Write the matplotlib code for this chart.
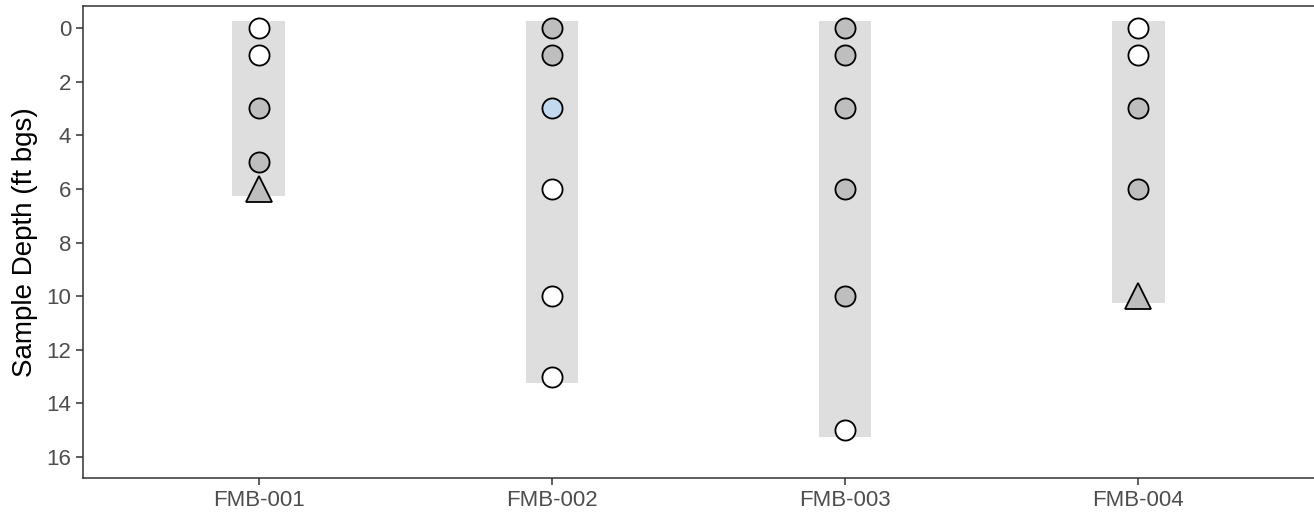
import numpy as np
import matplotlib.pyplot as plt

plt.rcParams['font.family'] = ['Liberation Sans', 'DejaVu Sans']

BORINGS = ["FMB-001", "FMB-002", "FMB-003", "FMB-004"]
TOTAL_DEPTH = [6, 13, 15, 10]

# samples per boring: depth, result class
SAMPLE_BORING = ["FMB-001"] * 5 + ["FMB-002"] * 6 + ["FMB-003"] * 6 + ["FMB-004"] * 5
SAMPLE_DEPTH = [0, 1, 3, 5, 6,
                0, 1, 3, 6, 10, 13,
                0, 1, 3, 6, 10, 15,
                0, 1, 3, 6, 10]
SAMPLE_CLASS = ["nd", "nd", "det", "det", "refusal",
                "det", "det", "exceed", "nd", "nd", "nd",
                "det", "det", "det", "det", "det", "nd",
                "nd", "nd", "det", "det", "refusal"]

FILL = {"nd": "white", "det": "#BEBEBE", "exceed": "#C3DAEE", "refusal": "#BEBEBE"}
MARKER = {"nd": "o", "det": "o", "exceed": "o", "refusal": "^"}

fig = plt.figure(figsize=(13.14, 5.14), dpi=100)
ax = fig.add_axes([83 / 1314, 1 - 478 / 514, (1314 - 83) / 1314, (478 - 6) / 514])

xpos = {b: i + 1 for i, b in enumerate(BORINGS)}
for b, d in zip(BORINGS, TOTAL_DEPTH):
    ax.bar(xpos[b], d + 0.5, bottom=-0.25, width=0.18, color="#DEDEDE", zorder=1)

for b, d, c in zip(SAMPLE_BORING, SAMPLE_DEPTH, SAMPLE_CLASS):
    size = 19 if MARKER[c] == "^" else 14.5
    ax.plot(xpos[b], d, marker=MARKER[c], markersize=size, markerfacecolor=FILL[c],
            markeredgecolor="black", markeredgewidth=1.3, linestyle="none", zorder=3)

ax.set_xlim(0.4, 4.6)
ax.set_ylim(16.78, -0.82)
ax.set_xticks(range(1, 5))
ax.set_xticklabels(BORINGS)
ax.set_yticks(range(0, 17, 2))
ax.tick_params(colors="#333333", labelcolor="#4D4D4D", labelsize=16, length=5, width=1.1)
for s in ax.spines.values():
    s.set_color("#333333")
    s.set_linewidth(1.1)
ax.spines["right"].set_visible(False)
ax.set_ylabel("Sample Depth (ft bgs)", fontsize=20, color="black", labelpad=6)

fig.savefig("out.png", dpi=100)
